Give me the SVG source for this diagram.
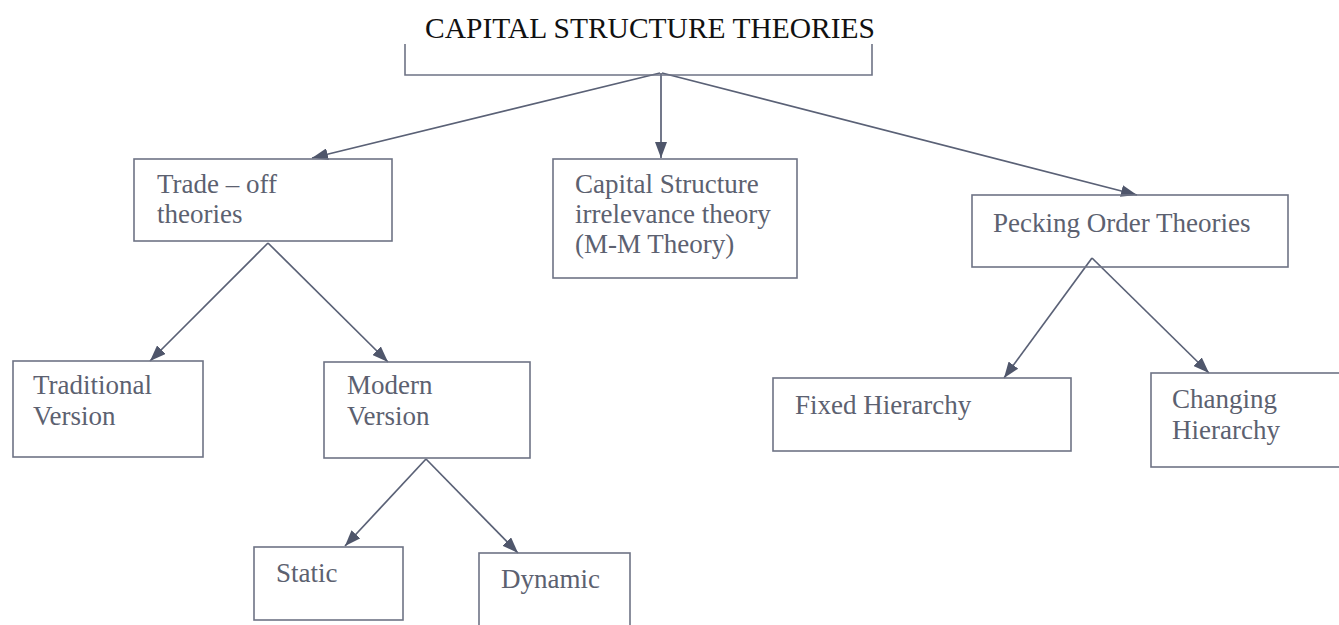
<svg xmlns="http://www.w3.org/2000/svg" width="1339" height="625" viewBox="0 0 1339 625">
<defs>
<marker id="ah" viewBox="0 0 16 12" refX="16" refY="6" markerUnits="userSpaceOnUse" markerWidth="16" markerHeight="12" orient="auto">
<path d="M0,0 L16,6 L0,12 z" fill="#4f566b"/>
</marker>
<style>
.box{fill:none;stroke:#6e7385;stroke-width:1.6}
.lbl{font-family:"Liberation Serif","Times New Roman",serif;font-size:27px;fill:#5c6170}
.title{font-family:"Liberation Serif","Times New Roman",serif;font-size:29.5px;fill:#111111}
.conn{fill:none;stroke:#5a6176;stroke-width:1.7;marker-end:url(#ah)}
</style>
</defs>
<rect width="1339" height="625" fill="#ffffff"/>
<g id="connectors">
<line class="conn" x1="660" y1="73" x2="312" y2="158"/>
<line class="conn" x1="661" y1="73" x2="661" y2="158"/>
<line class="conn" x1="662" y1="73" x2="1137" y2="195"/>
<line class="conn" x1="268" y1="243" x2="150" y2="361"/>
<line class="conn" x1="268" y1="243" x2="388" y2="362"/>
<line class="conn" x1="426" y1="459" x2="345" y2="546"/>
<line class="conn" x1="426" y1="459" x2="518" y2="553"/>
<line class="conn" x1="1092" y1="258" x2="1004" y2="378"/>
<line class="conn" x1="1092" y1="258" x2="1209" y2="373"/>
</g>
<g id="node-root">
<path class="box" d="M405,44 V75 H872 V44"/>
<text class="title" x="425" y="38">CAPITAL STRUCTURE THEORIES</text>
</g>
<g id="node-tradeoff">
<rect class="box" x="134" y="159" width="258" height="82"/>
<text class="lbl" x="157" y="193">Trade – off</text>
<text class="lbl" x="157" y="223">theories</text>
</g>
<g id="node-mm">
<rect class="box" x="553" y="159" width="244" height="119"/>
<text class="lbl" x="575" y="193">Capital Structure</text>
<text class="lbl" x="575" y="223">irrelevance theory</text>
<text class="lbl" x="575" y="253">(M-M Theory)</text>
</g>
<g id="node-pecking">
<rect class="box" x="972" y="195" width="316" height="72"/>
<text class="lbl" x="993" y="232">Pecking Order Theories</text>
</g>
<g id="node-traditional">
<rect class="box" x="13" y="361" width="190" height="96"/>
<text class="lbl" x="33" y="394">Traditional</text>
<text class="lbl" x="33" y="425">Version</text>
</g>
<g id="node-modern">
<rect class="box" x="324" y="362" width="206" height="96"/>
<text class="lbl" x="347" y="394">Modern</text>
<text class="lbl" x="347" y="425">Version</text>
</g>
<g id="node-fixed">
<rect class="box" x="773" y="378" width="298" height="73"/>
<text class="lbl" x="795" y="414">Fixed Hierarchy</text>
</g>
<g id="node-changing">
<rect class="box" x="1151" y="373" width="200" height="94"/>
<text class="lbl" x="1172" y="408">Changing</text>
<text class="lbl" x="1172" y="439">Hierarchy</text>
</g>
<g id="node-static">
<rect class="box" x="254" y="547" width="149" height="73"/>
<text class="lbl" x="276" y="582">Static</text>
</g>
<g id="node-dynamic">
<rect class="box" x="479" y="553" width="151" height="80"/>
<text class="lbl" x="501" y="588">Dynamic</text>
</g>
</svg>
